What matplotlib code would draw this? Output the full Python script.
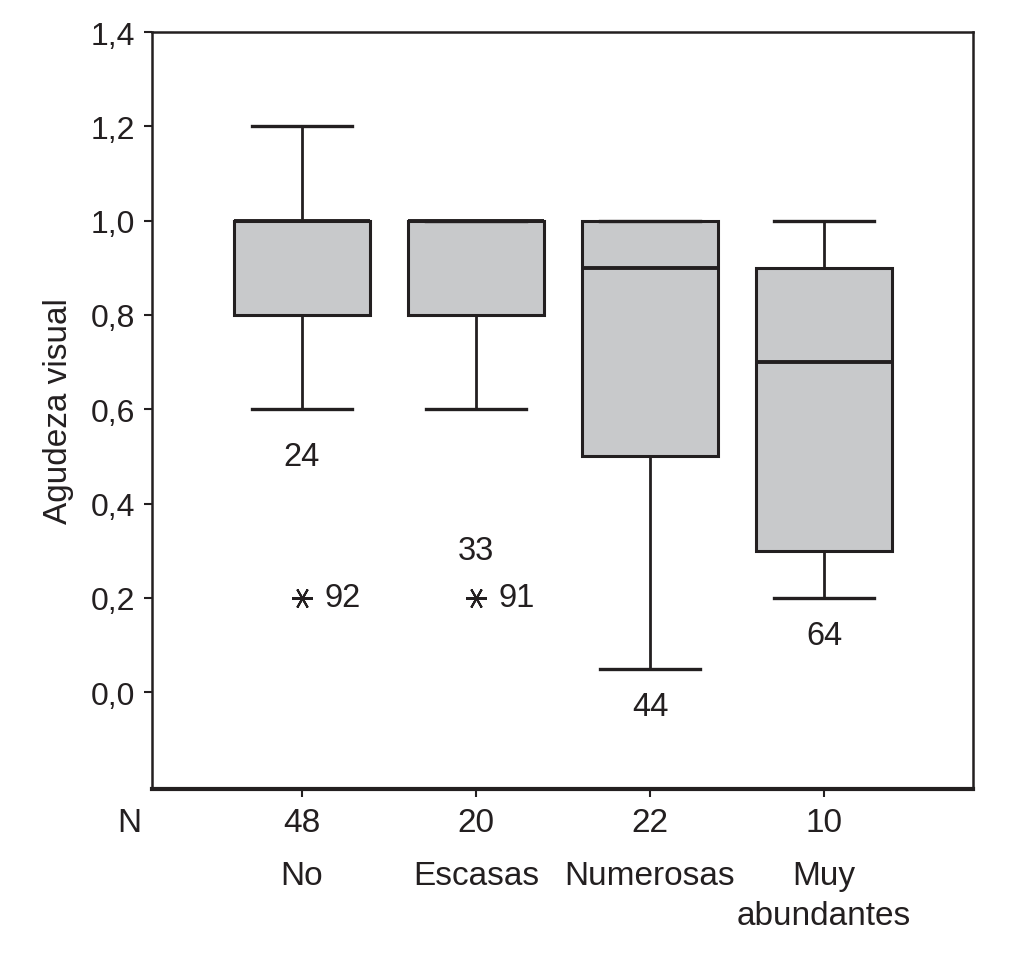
import numpy as np
import matplotlib
matplotlib.use('Agg')
import matplotlib.pyplot as plt
from matplotlib.ticker import FuncFormatter

plt.rcParams['font.family'] = ['Liberation Sans', 'DejaVu Sans']

categories = ['No', 'Escasas', 'Numerosas', 'Muy\nabundantes']
counts = [48, 20, 22, 10]
whislo = [0.6, 0.6, 0.05, 0.2]
q1 = [0.8, 0.8, 0.5, 0.3]
med = [1.0, 1.0, 0.9, 0.7]
q3 = [1.0, 1.0, 1.0, 0.9]
whishi = [1.2, 1.0, 1.0, 1.0]
# case labels shown under the boxes (outliers) and extreme values (asterisks)
outlier_labels = [('24', 1, 0.50), ('33', 2, 0.30), ('44', 3, -0.03), ('64', 4, 0.12)]
extremes = [('92', 1, 0.2), ('91', 2, 0.2)]

positions = np.arange(1, len(categories) + 1)
box_color = '#c8c9cb'
ink = '#231f20'

fig = plt.figure(figsize=(10.29, 9.54), dpi=100)
ax = fig.add_axes([0.1477, 0.1719, 0.7979, 0.7935])

stats = []
for i in range(len(categories)):
    stats.append(dict(whislo=whislo[i], q1=q1[i], med=med[i], q3=q3[i],
                      whishi=whishi[i], fliers=[]))

ax.bxp(stats, positions=positions, widths=0.78, capwidths=0.575,
       patch_artist=True, showfliers=False,
       boxprops=dict(facecolor=box_color, edgecolor=ink, linewidth=2.2),
       medianprops=dict(color=ink, linewidth=2.8),
       whiskerprops=dict(color=ink, linewidth=2),
       capprops=dict(color=ink, linewidth=2.4))

for lab, p, y in outlier_labels:
    ax.text(p, y, lab, ha='center', va='center', fontsize=23.5, color=ink)

for lab, p, y in extremes:
    ax.plot(p, y, marker=(6, 2, 90), markersize=15, color=ink, mew=1.5, linestyle='none')
    ax.text(p + 0.13, y, lab, ha='left', va='center', fontsize=23.5, color=ink)

ax.set_xlim(0.138, 4.856)
ax.set_ylim(-0.205, 1.4)
ax.set_yticks([0.0, 0.2, 0.4, 0.6, 0.8, 1.0, 1.2, 1.4])
ax.yaxis.set_major_formatter(FuncFormatter(lambda v, p: ('%.1f' % v).replace('.', ',')))
ax.set_ylabel('Agudeza visual', fontsize=24, color=ink, labelpad=12)

ax.set_xticks(positions)
ax.set_xticklabels([str(c) for c in counts], fontsize=24, color=ink)
ax.tick_params(axis='x', length=6, width=1.5, color=ink, pad=7)
ax.tick_params(axis='y', length=6, width=1.5, color=ink, labelsize=23, labelcolor=ink, pad=6)

for s in ax.spines.values():
    s.set_color(ink)
    s.set_linewidth(1.8)
ax.spines['bottom'].set_linewidth(3)

ax.annotate('N', xy=(0, 0), xycoords='axes fraction', xytext=(-16, -24),
            textcoords='offset points', ha='center', va='center', fontsize=24, color=ink)
for p, name in zip(positions, categories):
    ax.annotate(name, xy=(p, 0), xycoords=('data', 'axes fraction'), xytext=(0, -51),
                textcoords='offset points', ha='center', va='top', fontsize=24,
                color=ink, linespacing=1.38)

fig.savefig('out.png', dpi=100)
